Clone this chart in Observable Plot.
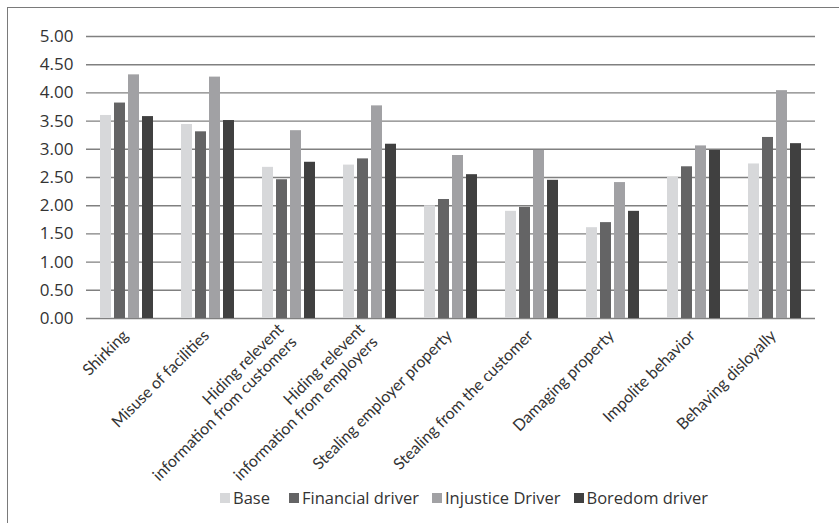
<!DOCTYPE html>
<html><head><meta charset="utf-8">
<script src="https://cdn.jsdelivr.net/npm/d3@7"></script>
<script src="https://cdn.jsdelivr.net/npm/@observablehq/plot@0.6"></script>
<style>
body{margin:0;background:#fff;}
#wrap{position:relative;width:839px;height:523px;overflow:hidden;background:#fff;font-family:"Open Sans",sans-serif;}
#frame{position:absolute;left:7px;top:7px;width:850px;height:540px;border-left:1.5px solid #7a7a7a;border-top:1.5px solid #7a7a7a;}
#chart{position:absolute;left:0;top:0;}
#legend{position:absolute;left:220px;top:481px;}
#legend .lg-swatch{margin-right:13px !important;}
#legend .lg-swatch > svg{margin-right:3px !important;}
#legend .lg-swatch:first-of-type{margin-right:19px !important;}
</style></head><body>
<div id="wrap"><div id="frame"></div><div id="chart"></div><div id="legend"></div></div>
<script>
const categories = ["Shirking", "Misuse of facilities", "Hiding relevent\ninformation from customers", "Hiding relevent\ninformation from employers", "Stealing employer property", "Stealing from the customer", "Damaging property", "Impolite behavior", "Behaving disloyally"];
const series = ["Base", "Financial driver", "Injustice Driver", "Boredom driver"];
const base      = [3.60, 3.44, 2.68, 2.72, 2.00, 1.90, 1.61, 2.50, 2.74];
const financial = [3.82, 3.31, 2.46, 2.83, 2.11, 1.97, 1.70, 2.69, 3.21];
const injustice = [4.32, 4.28, 3.33, 3.77, 2.89, 2.98, 2.41, 3.06, 4.04];
const boredom   = [3.58, 3.51, 2.77, 3.09, 2.55, 2.45, 1.90, 2.98, 3.10];
const yTicks = [0, 0.5, 1, 1.5, 2, 2.5, 3, 3.5, 4, 4.5, 5];
const colors = ["#d7d8da", "#646465", "#a1a1a4", "#404040"];

const values = [base, financial, injustice, boredom];
const rows = categories.flatMap((c, i) => series.map((s, j) => ({category: c, series: s, value: values[j][i]})));
const font = "'Open Sans', sans-serif";

const chart = Plot.plot({
  width: 839, height: 470,
  marginTop: 36, marginLeft: 84, marginRight: 23, marginBottom: 152,
  style: {fontFamily: font, fontSize: "16px", color: "#333", background: "transparent", overflow: "visible"},
  fx: {domain: categories, paddingInner: 0, paddingOuter: 0, axis: null, label: null},
  x: {domain: series, paddingInner: 0.24, paddingOuter: 0.855, axis: null, label: null},
  y: {domain: [0, 5], axis: null, label: null},
  color: {domain: series, range: colors},
  marks: [
    Plot.gridY(yTicks, {stroke: "#808080", strokeOpacity: 1, strokeWidth: 1.4}),
    Plot.barY(rows, {fx: "category", x: "series", y: "value", fill: "series"}),
    Plot.text(categories, {fx: d => d, text: d => d, frameAnchor: "bottom", rotate: -45, textAnchor: "end", lineAnchor: "middle", lineHeight: 1.15, dx: -2, dy: 14, fontSize: 16, fontFamily: "Lato, sans-serif", fill: "#333"}),
    Plot.axisY(yTicks, {tickSize: 0, tickPadding: 13, tickFormat: d => d.toFixed(2), fontSize: 17, label: null, fill: "#333"})
  ]
});
document.getElementById("chart").appendChild(chart);

const leg = Plot.legend({
  color: {domain: series, range: colors},
  legend: "swatches", swatchSize: 10, className: "lg",
  style: {fontFamily: font, fontSize: "16.5px", color: "#333", marginLeft: "0px"}
});
document.getElementById("legend").appendChild(leg);
</script>
</body></html>
